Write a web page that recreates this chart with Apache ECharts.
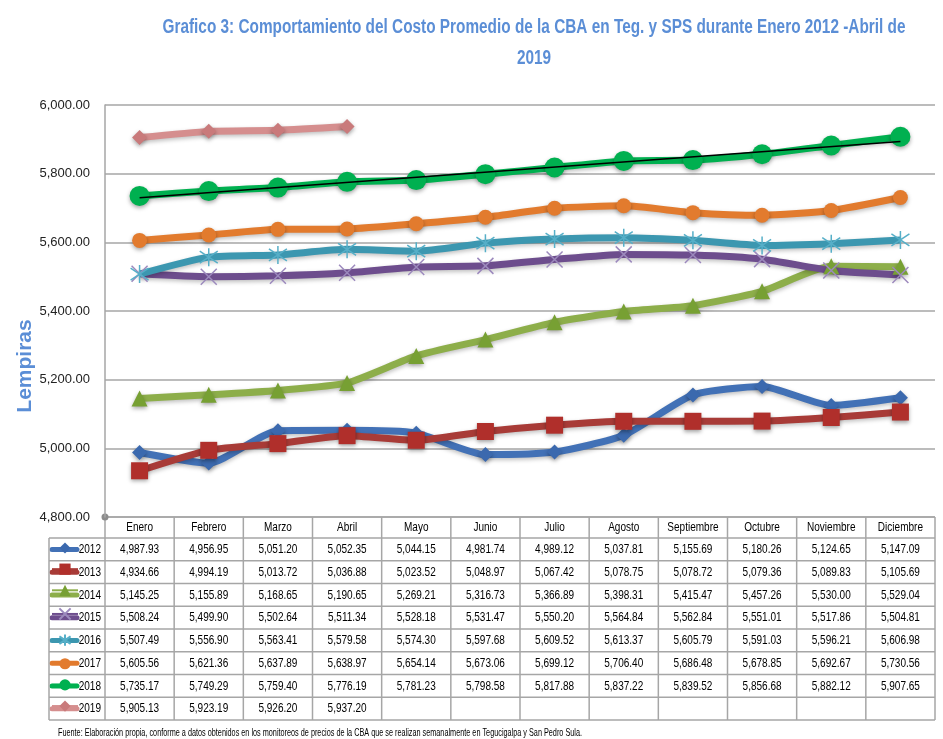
<!DOCTYPE html>
<html>
<head>
<meta charset="utf-8">
<script src="https://cdn.jsdelivr.net/npm/echarts@6/dist/echarts.min.js"></script>
<style>
  html, body { margin: 0; padding: 0; background: #fff; }
  #chart { width: 943px; height: 739px; }
</style>
</head>
<body>
<div id="chart"></div>
<script>
// datos del grafico
var months = ['Enero', 'Febrero', 'Marzo', 'Abril', 'Mayo', 'Junio', 'Julio', 'Agosto', 'Septiembre', 'Octubre', 'Noviembre', 'Diciembre'];
var years = ['2012', '2013', '2014', '2015', '2016', '2017', '2018', '2019'];
var v2012 = [4987.93, 4956.95, 5051.20, 5052.35, 5044.15, 4981.74, 4989.12, 5037.81, 5155.69, 5180.26, 5124.65, 5147.09];
var v2013 = [4934.66, 4994.19, 5013.72, 5036.88, 5023.52, 5048.97, 5067.42, 5078.75, 5078.72, 5079.36, 5089.83, 5105.69];
var v2014 = [5145.25, 5155.89, 5168.65, 5190.65, 5269.21, 5316.73, 5366.89, 5398.31, 5415.47, 5457.26, 5530.00, 5529.04];
var v2015 = [5508.24, 5499.90, 5502.64, 5511.34, 5528.18, 5531.47, 5550.20, 5564.84, 5562.84, 5551.01, 5517.86, 5504.81];
var v2016 = [5507.49, 5556.90, 5563.41, 5579.58, 5574.30, 5597.68, 5609.52, 5613.37, 5605.79, 5591.03, 5596.21, 5606.98];
var v2017 = [5605.56, 5621.36, 5637.89, 5638.97, 5654.14, 5673.06, 5699.12, 5706.40, 5686.48, 5678.85, 5692.67, 5730.56];
var v2018 = [5735.17, 5749.29, 5759.40, 5776.19, 5781.23, 5798.58, 5817.88, 5837.22, 5839.52, 5856.68, 5882.12, 5907.65];
var v2019 = [5905.13, 5923.19, 5926.20, 5937.20, null, null, null, null, null, null, null, null];
// linea de tendencia 2018 (extremos)
var trend2018 = [5729.5, 5894.0];

var allValues = [v2012, v2013, v2014, v2015, v2016, v2017, v2018, v2019];

var titleLines = ['Grafico 3: Comportamiento del Costo Promedio de la CBA en Teg. y SPS durante Enero 2012 -Abril de', '2019'];
var yName = 'Lempiras';
var fuente = 'Fuente: Elaboración propia, conforme a datos obtenidos en los monitoreos de precios de la CBA que se realizan semanalmente en Tegucigalpa y San Pedro Sula.';

var FONT = '"Liberation Sans", Arial, sans-serif';
var X_PATH = 'path://M0,0L10,10M10,0L0,10';
var STAR_PATH = 'path://M0,1L10,9M10,1L0,9M5,-1L5,11';

var styles = [
    { line: '#4271B6', mark: '#3B69AE', symbol: 'diamond', size: 15 },
    { line: '#A83B37', mark: '#B02F2B', symbol: 'rect', size: 17 },
    { line: '#8DAE4A', mark: '#77A033', symbol: 'triangle', size: 16 },
    { line: '#6D4D8D', mark: '#9C89BD', symbol: X_PATH, size: 16, stroke: true },
    { line: '#3C97B0', mark: '#56AFC8', symbol: STAR_PATH, size: 18, stroke: true },
    { line: '#E27B2E', mark: '#E27B2E', symbol: 'circle', size: 15 },
    { line: '#00B050', mark: '#00B050', symbol: 'circle', size: 20 },
    { line: '#D58E8E', mark: '#C97A7B', symbol: 'diamond', size: 15 }
];

function fmt(v) {
    if (v === null || v === undefined) return '';
    return v.toLocaleString('en-US', { minimumFractionDigits: 2, maximumFractionDigits: 2 });
}

var measureCtx = document.createElement('canvas').getContext('2d');
function textW(t, font) {
    measureCtx.font = font;
    return measureCtx.measureText(t).width;
}

var series = years.map(function (y, i) {
    var st = styles[i];
    var s = {
        name: y,
        type: 'line',
        data: allValues[i],
        smooth: 0.2,
        symbol: st.symbol,
        symbolSize: st.size,
        showAllSymbol: true,
        lineStyle: { color: st.line, width: 7, shadowBlur: 4, shadowColor: 'rgba(0,0,0,0.25)', shadowOffsetY: 2 },
        itemStyle: st.stroke ? {
            color: 'none', borderColor: st.mark, borderWidth: 1.5
        } : {
            color: st.mark, borderWidth: 0, shadowBlur: 4, shadowColor: 'rgba(0,0,0,0.35)', shadowOffsetY: 2
        },
        emphasis: { disabled: true }
    };
    if (y === '2018') {
        s.markLine = {
            silent: true,
            symbol: 'none',
            label: { show: false },
            lineStyle: { color: '#000', width: 1.5, type: 'solid' },
            data: [[{ coord: [months[0], trend2018[0]] }, { coord: [months[11], trend2018[1]] }]]
        };
    }
    return s;
});

var chart = echarts.init(document.getElementById('chart'));

var option = {
    animation: false,
    backgroundColor: '#fff',
    legend: {
        orient: 'vertical',
        left: 51,
        top: 542.4,
        padding: 0,
        itemWidth: 26,
        itemHeight: 14,
        itemGap: 9.95,
        selectedMode: false,
        data: years,
        formatter: function () { return ''; },
        textStyle: { fontSize: 1, lineHeight: 1 }
    },
    grid: { left: 105, right: 8, top: 105, bottom: 222, containLabel: false },
    xAxis: {
        type: 'category',
        data: months,
        boundaryGap: true,
        axisLine: { show: false },
        axisTick: { show: false },
        axisLabel: { show: false }
    },
    yAxis: {
        type: 'value',
        min: 4800,
        max: 6000,
        interval: 200,
        axisLine: { show: true, lineStyle: { color: '#A6A6A6', width: 1.5 } },
        axisTick: { show: false },
        axisLabel: {
            margin: 15,
            fontFamily: FONT,
            fontSize: 13,
            color: '#222',
            formatter: function (v) { return fmt(v); }
        },
        splitLine: { lineStyle: { color: '#A6A6A6', width: 1.5 } }
    },
    series: series
};

chart.setOption(option);

// texto comprimido horizontalmente (como en la imagen original)
function squeezedText(text, x, y, font, color, scale, align) {
    return {
        type: 'text', silent: true, x: x, y: y, scaleX: scale,
        style: { text: text, x: 0, y: 0, align: align || 'center', verticalAlign: 'middle', font: font, fill: color }
    };
}

// titulo, tabla de datos y notas
function buildTable() {
    var x0 = chart.convertToPixel({ xAxisIndex: 0 }, 0);
    var x1 = chart.convertToPixel({ xAxisIndex: 0 }, 1);
    var colW = x1 - x0;
    var left = x0 - colW / 2;
    var right = left + colW * months.length;
    var headTop = 517, headBot = 538, rowH = 22.75;
    var tableBot = headBot + rowH * years.length;
    var labelLeft = 49;
    var lineStyle = { stroke: '#A6A6A6', lineWidth: 1.5 };
    var els = [];

    var titleFont = 'bold 20px ' + FONT;
    var titleScale = 743 / textW(titleLines[0], titleFont);
    els.push(squeezedText(titleLines[0], 534, 27, titleFont, '#5B8ED6', titleScale));
    els.push(squeezedText(titleLines[1], 534, 58, titleFont, '#5B8ED6', titleScale));

    els.push({ type: 'line', shape: { x1: left, y1: headTop, x2: right, y2: headTop }, style: lineStyle, silent: true });
    for (var r = 0; r <= years.length; r++) {
        var yy = headBot + r * rowH;
        els.push({ type: 'line', shape: { x1: labelLeft, y1: yy, x2: right, y2: yy }, style: lineStyle, silent: true });
    }
    els.push({ type: 'line', shape: { x1: labelLeft, y1: headBot, x2: labelLeft, y2: tableBot }, style: lineStyle, silent: true });
    for (var c = 0; c <= months.length; c++) {
        var xx = left + c * colW;
        els.push({ type: 'line', shape: { x1: xx, y1: headTop, x2: xx, y2: tableBot }, style: lineStyle, silent: true });
    }
    els.push({ type: 'circle', shape: { cx: left, cy: headTop, r: 3.5 }, style: { fill: '#8C8C8C' }, silent: true });

    var cellFont = '13.5px ' + FONT;
    var cellScale = 39 / textW('4,987.93', cellFont);
    months.forEach(function (m, c) {
        var cx = left + (c + 0.5) * colW;
        els.push(squeezedText(m, cx, (headTop + headBot) / 2, cellFont, '#000', cellScale));
        allValues.forEach(function (vals, r) {
            els.push(squeezedText(fmt(vals[c]), cx, headBot + (r + 0.5) * rowH, cellFont, '#000', cellScale));
        });
    });

    // claves de la leyenda: trazo grueso bajo el icono y el año
    years.forEach(function (y, r) {
        var cy = headBot + (r + 0.5) * rowH;
        els.push({
            type: 'line', silent: true, z: -1,
            shape: { x1: 52, y1: cy, x2: 77, y2: cy },
            style: { stroke: styles[r].line, lineWidth: 5, lineCap: 'round' }
        });
        els.push(squeezedText(y, 101, cy, cellFont, '#000', cellScale, 'right'));
    });

    els.push({
        type: 'text', silent: true, x: 25, y: 366, rotation: Math.PI / 2,
        style: { text: yName, x: 0, y: 0, align: 'center', verticalAlign: 'middle', font: 'bold 21px ' + FONT, fill: '#5B8ED6' }
    });

    var footFont = '11.5px ' + FONT;
    els.push(squeezedText(fuente, 58, 733, footFont, '#000', 524 / textW(fuente, footFont), 'left'));

    chart.setOption({ graphic: els });
}

buildTable();
</script>
</body>
</html>
